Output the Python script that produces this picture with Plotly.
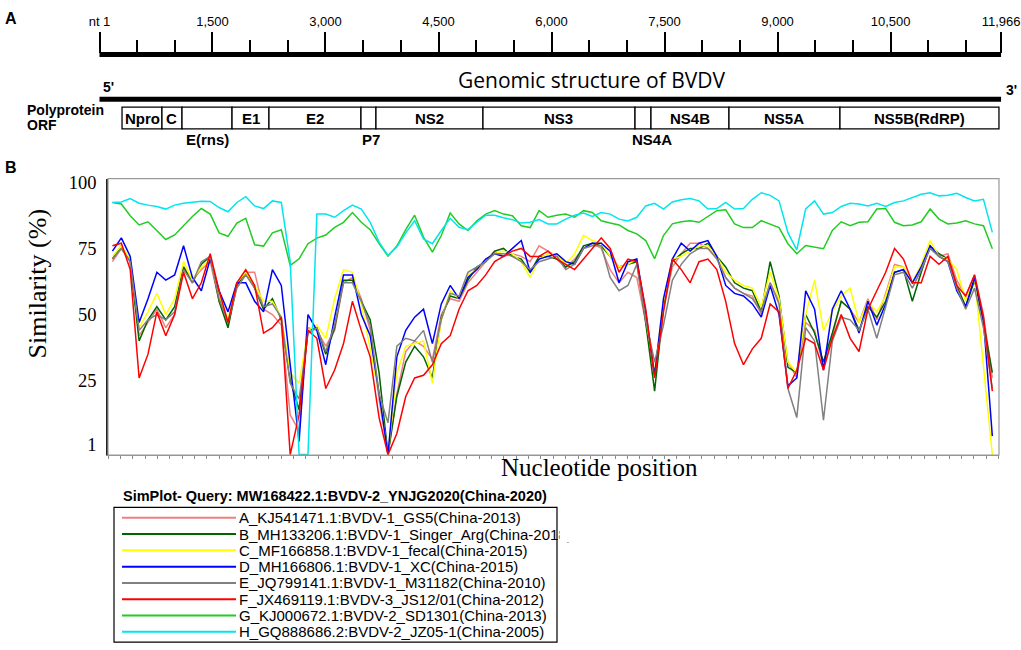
import plotly.graph_objects as go

W, H = 1021, 650
SANS = "Liberation Sans, Arial, sans-serif"
SERIF = "Liberation Serif, Times New Roman, serif"

# ---- panel A: genome map (nt) ----
genome_start = 1
genome_end = 11966
ruler_major = [1, 1500, 3000, 4500, 6000, 7500, 9000, 10500, 11966]
ruler_labels = ["nt 1", "1,500", "3,000", "4,500", "6,000", "7,500", "9,000", "10,500", "11,966"]
ruler_minor = [500, 1000, 2000, 2500, 3500, 4000, 5000, 5500, 6500, 7000,
               8000, 8500, 9500, 10000, 11000, 11500]

orf_genes = ["Npro", "C", "E(rns)", "E1", "E2", "P7", "NS2", "NS3", "NS4A", "NS4B", "NS5A", "NS5B(RdRP)"]
orf_start = [300, 830, 1096, 1760, 2250, 3471, 3670, 5090, 7108, 7320, 8355, 9828]
orf_end = [830, 1096, 1760, 2250, 3471, 3670, 5090, 7108, 7320, 8355, 9828, 11938]
below_labels = {"E(rns)": 0, "P7": 3, "NS4A": 9}  # too narrow, labelled under the box

# ---- panel B: SimPlot similarity ----
query = "MW168422.1:BVDV-2_YNJG2020(China-2020)"
position = list(range(60, 12000, 120))

names = [
    "A_KJ541471.1:BVDV-1_GS5(China-2013)",
    "B_MH133206.1:BVDV-1_Singer_Arg(China-2018)",
    "C_MF166858.1:BVDV-1_fecal(China-2015)",
    "D_MH166806.1:BVDV-1_XC(China-2015)",
    "E_JQ799141.1:BVDV-1_M31182(China-2010)",
    "F_JX469119.1:BVDV-3_JS12/01(China-2012)",
    "G_KJ000672.1:BVDV-2_SD1301(China-2013)",
    "H_GQ888686.2:BVDV-2_JZ05-1(China-2005)",
]
colors = ["#f08080", "#006400", "#ffff00", "#0000ff", "#808080", "#ff0000", "#22cc22", "#00e5ee"]

sim_A = [70, 75, 70, 42, 47, 52, 45, 50, 68, 63,
         67, 70, 55, 46, 61, 66, 66, 52, 50, 46,
         12, 6, 45, 44, 38, 44, 62, 64, 56, 44,
         18, -3, 20, 36, 40, 38, 33, 50, 56, 55,
         62, 66, 70, 74, 72, 73, 72, 70, 76, 74,
         72, 68, 71, 75, 77, 75, 67, 62, 66, 64,
         47, 27, 52, 68, 73, 77, 77, 75, 72, 64,
         60, 58, 57, 50, 62, 55, 32, 26, 47, 44,
         30, 42, 55, 52, 47, 56, 48, 58, 69, 68,
         62, 68, 75, 72, 73, 63, 57, 65, 50, 26]
sim_B = [71, 76, 70, 40, 48, 53, 48, 53, 68, 62,
         69, 72, 55, 45, 61, 66, 60, 52, 56, 48,
         25, 14, 44, 45, 35, 45, 63, 63, 55, 48,
         28, -3, 19, 32, 38, 34, 26, 49, 57, 56,
         63, 68, 70, 74, 75, 72, 71, 66, 72, 72,
         71, 68, 70, 76, 77, 76, 72, 68, 69, 70,
         47, 21, 53, 70, 73, 75, 75, 77, 72, 68,
         62, 60, 59, 51, 70, 57, 30, 28, 50, 43,
         32, 43, 55, 52, 44, 53, 49, 55, 66, 67,
         55, 66, 76, 73, 71, 61, 53, 63, 47, 28]
sim_C = [72, 76, 71, 45, 51, 58, 50, 56, 70, 63,
         68, 71, 57, 48, 62, 66, 61, 55, 55, 49,
         28, 24, 44, 46, 41, 56, 67, 66, 54, 37,
         20, -3, 28, 38, 39, 40, 24, 48, 59, 56,
         65, 67, 71, 73, 74, 73, 70, 64, 71, 73,
         73, 69, 73, 80, 78, 77, 72, 68, 69, 71,
         49, 28, 55, 71, 72, 74, 76, 76, 72, 66,
         63, 61, 60, 53, 66, 56, 32, 28, 50, 63,
         44, 51, 57, 60, 47, 55, 51, 57, 68, 68,
         62, 69, 78, 72, 71, 67, 55, 64, 29, -3]
sim_D = [74, 79, 72, 47, 56, 66, 63, 65, 76, 64,
         59, 71, 59, 51, 62, 62, 55, 51, 67, 61,
         31, 2, 50, 44, 31, 49, 65, 65, 50, 42,
         20, -3, 34, 44, 49, 52, 39, 54, 61, 56,
         64, 67, 71, 73, 72, 75, 78, 66, 71, 72,
         73, 70, 69, 75, 77, 77, 74, 62, 70, 71,
         51, 27, 56, 71, 77, 74, 77, 78, 72, 61,
         58, 57, 54, 49, 61, 50, 23, 26, 59, 52,
         29, 52, 59, 52, 43, 55, 46, 54, 66, 67,
         62, 68, 76, 72, 70, 59, 53, 64, 48, 4]
sim_E = [71, 75, 70, 44, 48, 50, 48, 51, 67, 62,
         70, 72, 56, 47, 60, 65, 60, 53, 54, 49,
         24, 18, 43, 45, 36, 46, 62, 62, 55, 46,
         20, 9, 38, 41, 40, 44, 32, 48, 58, 57,
         66, 68, 70, 73, 73, 72, 70, 67, 70, 71,
         72, 67, 69, 75, 76, 76, 64, 59, 61, 69,
         48, 32, 46, 63, 69, 73, 75, 75, 71, 64,
         60, 58, 56, 51, 62, 54, 22, 11, 45, 40,
         10, 40, 49, 48, 44, 52, 41, 53, 65, 66,
         60, 67, 75, 72, 70, 60, 52, 60, 45, 22]
sim_F = [76, 77, 67, 26, 35, 51, 42, 50, 66, 56,
         62, 73, 59, 47, 62, 67, 61, 43, 45, 49,
         -3, 12, 44, 41, 22, 29, 39, 55, 44, 34,
         11, -3, 5, 19, 26, 27, 31, 39, 42, 52,
         59, 61, 65, 70, 72, 74, 75, 72, 72, 74,
         71, 69, 67, 71, 75, 79, 75, 66, 71, 70,
         52, 26, 51, 71, 67, 62, 70, 71, 67, 55,
         39, 31, 37, 41, 54, 51, 22, 29, 41, 39,
         29, 41, 50, 41, 36, 52, 59, 66, 75, 71,
         62, 62, 72, 69, 72, 61, 57, 65, 49, 21]
sim_G = [92.4, 91.8, 87.4, 83.9, 85.1, 81.8, 78.4, 80.1, 83.6, 87.1,
         90.1, 88.0, 80.9, 79.6, 84.6, 86.4, 76.4, 75.9, 80.9, 82.1,
         68.6, 71.1, 76.8, 78.9, 80.1, 83.0, 84.9, 88.6, 84.9, 82.1,
         76.8, 72.1, 75.9, 82.1, 87.6, 79.3, 73.6, 79.9, 88.4, 84.3,
         81.8, 85.5, 88.0, 89.3, 88.0, 87.4, 83.6, 82.9, 89.3, 86.8,
         87.6, 88.0, 86.8, 89.3, 88.6, 85.5, 84.6, 83.9, 81.8, 80.5,
         78.0, 71.1, 79.9, 84.3, 85.1, 85.5, 84.9, 87.1, 89.3, 89.6,
         84.3, 82.9, 82.9, 85.5, 84.3, 82.9, 76.8, 73.0, 76.1, 75.5,
         74.9, 81.8, 85.1, 83.6, 84.9, 85.1, 89.9, 90.1, 84.9, 83.6,
         83.9, 85.1, 89.9, 86.1, 84.3, 84.6, 85.5, 84.3, 83.6, 74.9]
sim_H = [92.4, 92.6, 93.9, 92.1, 91.4, 90.9, 89.9, 91.4, 92.1, 92.4,
         92.9, 92.8, 90.5, 88.9, 92.4, 94.6, 91.1, 90.1, 93.0, 92.4,
         70.0, -3, -3, 88.0, 88.0, 86.8, 89.3, 91.4, 89.9, 84.9,
         77.4, 72.4, 75.5, 80.9, 85.5, 78.6, 76.8, 81.8, 86.4, 83.0,
         82.1, 84.9, 87.6, 87.6, 86.6, 85.9, 84.6, 84.9, 85.9, 84.3,
         84.3, 86.1, 87.6, 88.4, 87.1, 88.6, 88.0, 86.1, 85.4, 86.8,
         91.1, 92.1, 89.9, 92.6, 93.4, 93.9, 93.0, 89.9, 90.1, 92.4,
         89.9, 90.1, 93.6, 96.1, 95.1, 93.0, 81.0, 74.5, 90.0, 93.0,
         88.0, 88.6, 90.9, 92.1, 91.8, 91.1, 92.1, 90.9, 92.4, 93.0,
         94.3, 95.5, 96.1, 94.9, 95.1, 95.9, 94.3, 93.0, 93.6, 81.1]
similarity = [sim_A, sim_B, sim_C, sim_D, sim_E, sim_F, sim_G, sim_H]


def px(x):
    return x / W


def py(y):
    return 1 - y / H


fig = go.Figure()

# similarity curves
for name, color, vals in zip(names, colors, similarity):
    fig.add_trace(go.Scatter(x=position, y=vals, mode="lines", name=name,
                             line=dict(color=color, width=1.5), showlegend=False,
                             hoverinfo="skip"))

# ruler and genome bars (y2 is in pixel rows, top = 0)
for yrow in (49, 94):
    fig.add_trace(go.Scatter(x=[genome_start, genome_end], y=[yrow, yrow], mode="lines",
                             line=dict(color="black", width=5), xaxis="x2", yaxis="y2",
                             showlegend=False, hoverinfo="skip"))

fig.add_trace(go.Bar(orientation="h", y=[113] * len(orf_genes),
                     x=[e - s for s, e in zip(orf_start, orf_end)], base=orf_start,
                     width=22, marker=dict(color="white", line=dict(color="black", width=1.3)),
                     xaxis="x2", yaxis="y2", showlegend=False, hoverinfo="skip"))

ann = []


def label(x, y, s, size, bold=False, anchor="center", family=SANS, **kw):
    ann.append(dict(x=px(x), y=py(y), xref="paper", yref="paper",
                    text=f"<b>{s}</b>" if bold else s, showarrow=False,
                    xanchor=anchor, yanchor="middle",
                    font=dict(family=family, size=size, color="black"), **kw))


for g, s, e in zip(orf_genes, orf_start, orf_end):
    below = g in below_labels
    ann.append(dict(x=(s + e) / 2, y=135 if below else 114, xref="x2", yref="y2",
                    text=f"<b>{g}</b>", showarrow=False,
                    xshift=below_labels.get(g, 0),
                    font=dict(family=SANS, size=15, color="black")))

label(11, 13, "A", 16, bold=True)
label(11, 163, "B", 16, bold=True)
label(592, 75, "Genomic structure of BVDV", 21, family="Open Sans, sans-serif")
label(108, 82, "5'", 14, bold=True)
label(1011, 85, "3'", 14, bold=True)
label(25, 105, "Polyprotein", 14, bold=True, anchor="left")
label(25, 120, "ORF", 14, bold=True, anchor="left")
label(37, 281, "Similarity (%)", 26, family=SERIF, textangle=-90)
label(599, 466, "Nucleotide position", 25, family=SERIF)
label(121, 495, f"SimPlot- Query: {query}", 14.5, bold=True, anchor="left")

# hand-drawn legend box (long line samples as in SimPlot)
shapes = [dict(type="rect", xref="paper", yref="paper", x0=px(114), x1=px(557),
               y0=py(642), y1=py(506), line=dict(color="black", width=1.2))]
for k, (name, color) in enumerate(zip(names, colors)):
    yr = 516.5 + 16.45 * k
    shapes.append(dict(type="line", xref="paper", yref="paper", x0=px(122), x1=px(236),
                       y0=py(yr), y1=py(yr), line=dict(color=color, width=2)))
    label(237, yr, name, 15, anchor="left")
# the long second entry is clipped by the legend frame
ann.append(dict(x=px(558.5), y=py(516.5 + 16.45), xref="paper", yref="paper", text=" ",
                showarrow=False, xanchor="left", yanchor="middle", width=45, height=15,
                bgcolor="white", borderpad=0))

# plot frame
shapes.append(dict(type="rect", xref="x domain", yref="y domain", x0=0, x1=1, y0=0, y1=1,
                   line=dict(color="#9a9a9a", width=1.2), layer="above"))

fig.update_layout(
    width=W, height=H, autosize=False,
    margin=dict(l=0, r=0, t=0, b=0),
    paper_bgcolor="white", plot_bgcolor="rgba(0,0,0,0)",
    annotations=ann, shapes=shapes,
    xaxis=dict(domain=[108 / W, 999 / W], range=[0, 12030], showgrid=False, zeroline=False,
               showline=True, linecolor="#8a8a8a", linewidth=1.2,
               ticks="outside", ticklen=3, tickcolor="#8a8a8a", tick0=0, dtick=167,
               showticklabels=False),
    yaxis=dict(domain=[1 - 453.3 / H, 1 - 174.3 / H], range=[-3.2, 101.4], showgrid=False,
               zeroline=False, showline=True, linecolor="#222", linewidth=1.5, ticks="",
               tickvals=[1, 25, 50, 75, 100], ticktext=["1", "25", "50", "75", "100"],
               tickfont=dict(family=SERIF, size=18.5, color="black"), ticklabelstandoff=6),
    xaxis2=dict(domain=[0, 1], range=[-1319.5, 12230.5], anchor="free", position=1 - 47 / H,
                side="top", showgrid=False, zeroline=False, showline=False,
                tickvals=ruler_major, ticktext=ruler_labels, ticks="outside", ticklen=21,
                tickwidth=2, tickcolor="black",
                tickfont=dict(family=SANS, size=13, color="black"),
                minor=dict(tickvals=ruler_minor, ticks="outside", ticklen=13, tickwidth=2,
                           tickcolor="black", showgrid=False)),
    yaxis2=dict(domain=[0, 1], range=[H, 0], anchor="x2", visible=False),
)

# the page is exactly the figure size, so drop the default body margin
fig.write_html("out.html", config={"displayModeBar": False},
               post_script="document.body.style.margin = '0';")
